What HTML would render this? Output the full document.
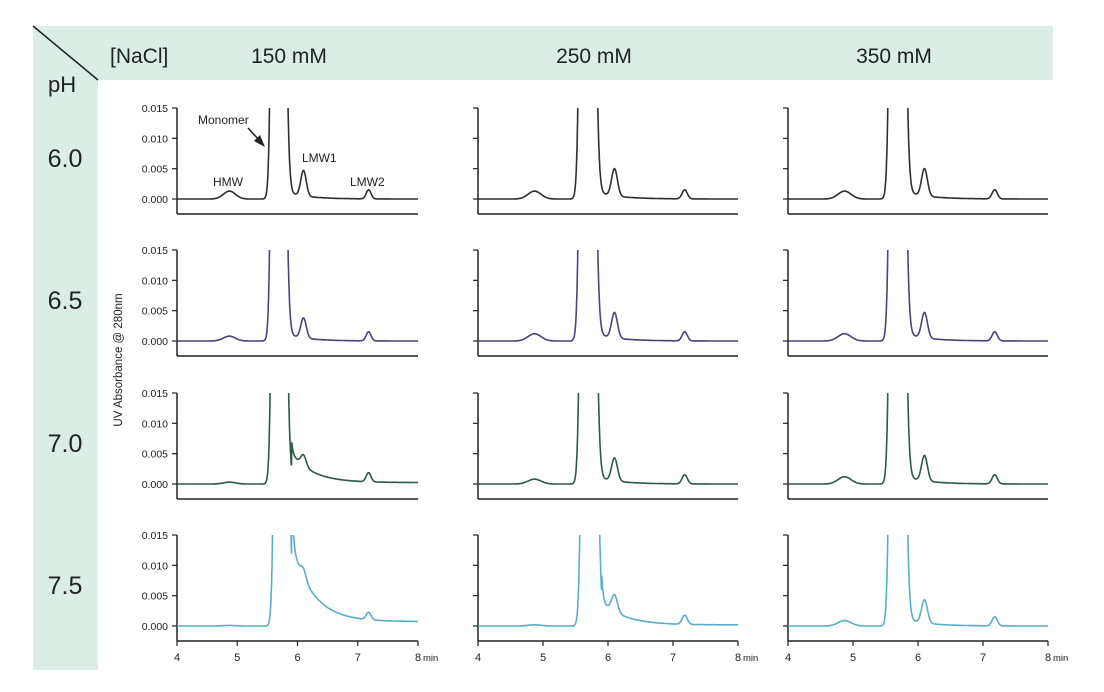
<!DOCTYPE html>
<html><head><meta charset="utf-8"><style>
body{margin:0;background:#fff;}
svg{display:block;font-family:"Liberation Sans",sans-serif;}
</style></head><body>
<svg id="chart" width="1104" height="692" viewBox="0 0 1104 692">
<rect x="33" y="26" width="1020" height="54" fill="#dcede6"/>
<rect x="33" y="26" width="65" height="644" fill="#dcede6"/>
<line x1="33" y1="26" x2="98" y2="80" stroke="#222" stroke-width="1.5"/>
<text x="48" y="92" font-size="22" fill="#222">pH</text>
<text x="110" y="63" font-size="21" fill="#222">[NaCl]</text>
<g id="plots"></g>
<text transform="translate(122,360) rotate(-90)" text-anchor="middle" font-size="11.5" fill="#222">UV Absorbance @ 280nm</text>
</svg>
<script>
const concLabels=["150 mM","250 mM","350 mM"];
const phLabels=["6.0","6.5","7.0","7.5"];
const yTicks=[0,0.005,0.010,0.015];
const xTicks=[4,5,6,7,8];
const hmwHeights=[[.0013,.0013,.0013],[.0008,.0012,.0012],[.0003,.0008,.0012],[.0001,.0002,.0009]];
const lmw1Heights=[[.0042,.0045,.0045],[.0033,.0042,.0042],[.0018,.0038,.0042],[.0015,.0028,.0038]];
const lmw2Heights=[[.0015,.0015,.0015],[.0015,.0015,.0015],[.0015,.0015,.0015],[.0012,.0015,.0015]];
const tailAmps=[[0,0,0],[0,0,0],[.004,0,0],[.012,.003,0]];
const monomerTimes=[[5.67,5.67,5.67],[5.67,5.67,5.67],[5.68,5.68,5.67],[5.72,5.7,5.67]];
const colors=["#2f2f2f","#46467a","#2f5a44","#5aaec8"];
const NS="http://www.w3.org/2000/svg";
const g=document.getElementById('plots');
const colX0=[177,478,788],colWs=[241,260,260],headerX=[289,594,894];
const rowY15=[108,250,393,535],rowH=91;
function mk(t,a,p){const e=document.createElementNS(NS,t);for(const k in a)e.setAttribute(k,a[k]);(p||g).appendChild(e);return e;}
function gauss(t,c,h,s){return h*Math.exp(-((t-c)**2)/(2*s*s));}
colX0.forEach((x0,ci)=>{
  const tx=mk('text',{x:headerX[ci],y:63,'font-size':21,fill:'#222','text-anchor':'middle'});
  
  
  tx.textContent=concLabels[ci];
});
phLabels.forEach((p,ri)=>{
  const t=mk('text',{x:65,y:rowY15[ri]+59,'font-size':25,fill:'#222','text-anchor':'middle'});
  
  
  t.textContent=p;
});
for(let ri=0;ri<4;ri++)for(let ci=0;ci<3;ci++){
  const x0=colX0[ci],top=rowY15[ri],colW=colWs[ci];
  const X=t=>x0+(t-4)/4*colW;
  const Y=v=>top+rowH-v/0.015*rowH;
  const bottom=top+rowH+15;
  const pg=mk('g',{});
  
  
  mk('line',{x1:x0,y1:top,x2:x0,y2:bottom,stroke:'#222','stroke-width':1.5},pg);
  mk('line',{x1:x0,y1:bottom,x2:x0+colW,y2:bottom,stroke:'#222','stroke-width':1.5},pg);
  yTicks.forEach(v=>{
    mk('line',{x1:x0-5,y1:Y(v),x2:x0,y2:Y(v),stroke:'#222','stroke-width':1.2},pg);
    if(ci==0){const t=mk('text',{x:x0-9,y:Y(v)+4,'font-size':10.5,fill:'#222','text-anchor':'end'},pg);
      
      
      t.textContent=v.toFixed(3);}
  });
  if(ri==3){xTicks.forEach(v=>{
    mk('line',{x1:X(v),y1:bottom,x2:X(v),y2:bottom+5,stroke:'#222','stroke-width':1.2},pg);
    const t=mk('text',{x:X(v),y:bottom+20,'font-size':11,fill:'#222','text-anchor':'middle'},pg);
    
    
    t.textContent=v;
  });
    const m=mk('text',{x:X(8)+5,y:bottom+20,'font-size':9.5,fill:'#222'},pg);
    
    
    m.textContent='min';}
  const cid='clip'+ri+ci;
  const cp=mk('clipPath',{id:cid},pg);mk('rect',{x:x0,y:top,width:colW,height:rowH+14},cp);
  const mc=monomerTimes[ri][ci];
  let d='';
  for(let t=4;t<=8.0001;t+=0.004){
    let v=gauss(t,4.87,hmwHeights[ri][ci],0.1)+gauss(t,mc,0.3,t<mc?0.055:0.07)
      +gauss(t,6.1,lmw1Heights[ri][ci],0.045)+gauss(t,7.18,lmw2Heights[ri][ci],0.04);
    if(t>5.9){const tau=0.35;v+=tailAmps[ri][ci]*Math.exp(-(t-5.9)/tau)+tailAmps[ri][ci]*0.06;}
    if(t>5.8)v+=0.0012*Math.exp(-(t-5.8)/0.35);
    v=Math.min(v,0.03);
    d+=(d?'L':'M')+X(t).toFixed(1)+','+Y(v).toFixed(1);
  }
  const path=mk('path',{d:d,fill:'none',stroke:colors[ri],'stroke-width':1.6,'clip-path':'url(#'+cid+')'},pg);
  
  
}
const ann=[["Monomer",198,124],["HMW",213,186],["LMW1",302,162],["LMW2",350,186]];
ann.forEach(a=>{const t=mk('text',{x:a[1],y:a[2],'font-size':12,fill:'#222'});
  
  
  t.textContent=a[0];});
const ar=mk('line',{x1:248,y1:128,x2:260,y2:141,stroke:'#222','stroke-width':1.5});


const ah=mk('polygon',{points:'265,147 254,141 260,135',fill:'#222'});


</script>
</body></html>
